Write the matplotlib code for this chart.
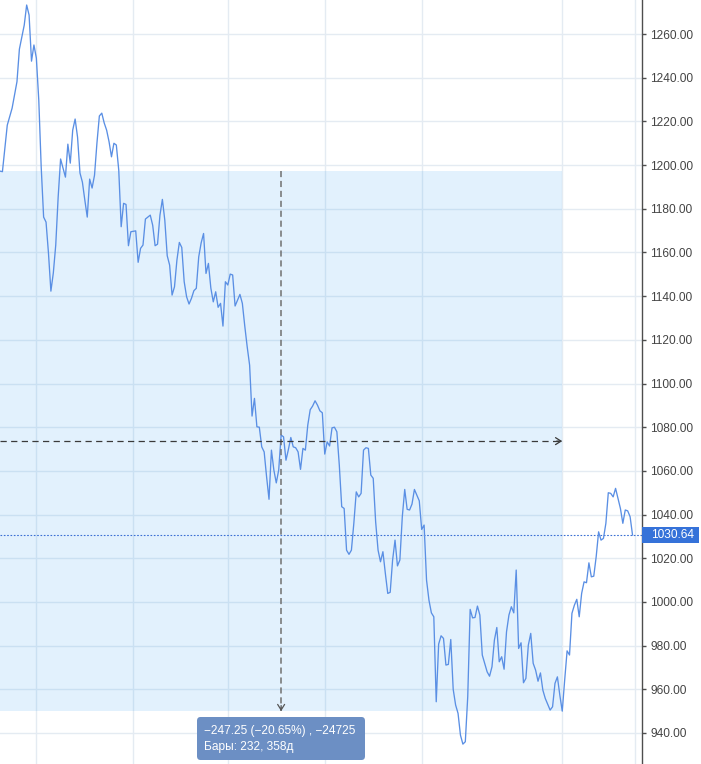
import matplotlib
matplotlib.use("Agg")
import matplotlib.pyplot as plt
from matplotlib.patches import Rectangle, FancyBboxPatch
from matplotlib.ticker import FuncFormatter

plt.rcParams["font.family"] = ["Liberation Sans", "DejaVu Sans"]

# bar index -> close price
bars = [0, 1, 3, 5, 7, 8, 10, 11, 12, 13, 14, 15, 16, 17, 18, 19, 20, 21, 22, 23,
        24, 25, 26, 27, 28, 29, 30, 31, 32, 33, 34, 35, 36, 37, 38, 39, 40, 41, 42, 43,
        44, 45, 46, 47, 48, 49, 50, 51, 52, 53, 54, 56, 57, 58, 59, 60, 62, 63, 64, 65,
        66, 67, 68, 69, 70, 71, 72, 73, 74, 75, 76, 77, 78, 79, 80, 81, 82, 83, 84, 85,
        86, 87, 88, 89, 90, 91, 92, 93, 94, 95, 96, 97, 98, 99, 100, 101, 102, 103, 104, 105,
        106, 107, 108, 109, 110, 111, 112, 113, 114, 115, 116, 117, 118, 119, 120, 121, 122, 123, 124, 125,
        126, 127, 128, 129, 130, 131, 132, 133, 134, 135, 136, 137, 138, 139, 140, 141, 142, 143, 144, 145,
        146, 147, 148, 149, 150, 151, 152, 153, 154, 155, 156, 157, 158, 159, 160, 161, 162, 163, 164, 165,
        166, 167, 168, 169, 170, 171, 172, 173, 174, 175, 176, 177, 178, 179, 180, 181, 182, 183, 184, 185,
        186, 187, 188, 189, 190, 191, 192, 193, 194, 195, 196, 197, 198, 199, 201, 202, 203, 204, 205, 206,
        207, 208, 209, 210, 211, 212, 213, 214, 215, 216, 217, 218, 219, 220, 221, 222, 223, 224, 225, 226,
        227, 228, 229, 230, 231, 232, 233, 234, 235, 236, 237, 238, 239, 240, 241, 242, 243, 244, 245, 246,
        247, 248, 249, 250, 251, 252, 253, 254, 255, 256, 257, 258, 259, 260, 261]

close = [1197.25, 1197.0, 1218.3, 1226.1, 1238.2, 1253.1, 1264.1, 1273.3, 1268.7, 1247.6,
         1255.0, 1249.0, 1229.8, 1199.1, 1176.2, 1173.9, 1159.7, 1142.3, 1150.6, 1163.4,
         1185.4, 1202.8, 1198.6, 1194.5, 1209.6, 1200.9, 1216.0, 1221.1, 1212.8, 1196.4,
         1192.2, 1184.0, 1176.2, 1193.6, 1189.5, 1195.4, 1210.1, 1222.5, 1223.8, 1219.3,
         1216.0, 1210.7, 1203.8, 1210.0, 1209.2, 1197.7, 1171.8, 1182.5, 1182.0, 1163.1,
         1169.5, 1169.9, 1155.5, 1161.9, 1163.4, 1175.3, 1177.1, 1172.5, 1163.1, 1163.8,
         1177.1, 1184.3, 1174.8, 1158.5, 1154.2, 1140.5, 1144.3, 1156.5, 1164.6, 1162.3,
         1146.6, 1139.7, 1136.4, 1139.0, 1142.5, 1143.6, 1158.0, 1164.4, 1168.7, 1150.4,
         1155.0, 1143.7, 1137.4, 1142.0, 1134.9, 1136.7, 1126.3, 1146.6, 1145.1, 1150.1,
         1149.7, 1135.5, 1138.2, 1140.8, 1136.7, 1126.3, 1116.8, 1108.4, 1085.1, 1093.2,
         1080.2, 1080.0, 1071.0, 1068.7, 1057.3, 1047.0, 1069.5, 1060.4, 1054.5, 1060.4,
         1076.4, 1075.6, 1064.9, 1069.8, 1075.3, 1071.0, 1070.6, 1068.7, 1060.7, 1070.3,
         1069.5, 1081.0, 1088.0, 1089.7, 1092.1, 1090.1, 1087.5, 1086.6, 1067.7, 1073.3,
         1071.4, 1079.7, 1080.0, 1077.9, 1062.7, 1043.6, 1042.8, 1023.7, 1021.8, 1023.7,
         1036.0, 1050.4, 1048.1, 1049.7, 1069.5, 1070.6, 1070.3, 1058.1, 1056.6, 1036.7,
         1023.7, 1018.4, 1023.0, 1013.1, 1003.9, 1004.4, 1019.2, 1028.3, 1016.5, 1019.2,
         1039.0, 1051.5, 1042.4, 1042.1, 1044.8, 1051.5, 1048.9, 1046.3, 1033.2, 1035.2,
         1010.0, 1000.8, 995.0, 993.2, 954.3, 980.7, 984.5, 983.3, 971.1, 971.4,
         982.8, 960.0, 952.8, 949.0, 939.0, 934.9, 936.0, 956.6, 996.6, 992.7,
         992.9, 998.1, 994.0, 975.7, 968.0, 966.0, 970.3, 982.5, 988.3, 972.6,
         974.9, 969.2, 986.3, 994.0, 997.8, 995.0, 1014.6, 978.7, 981.3, 963.0,
         965.0, 980.2, 985.6, 971.9, 968.8, 963.7, 967.5, 959.6, 955.8, 953.2,
         950.5, 952.0, 962.7, 965.7, 957.3, 950.0, 964.2, 977.6, 975.7, 994.8,
         998.5, 1001.2, 993.2, 1003.9, 1009.2, 1008.8, 1017.9, 1011.5, 1011.8, 1020.7,
         1032.1, 1028.3, 1029.1, 1036.0, 1050.0, 1049.7, 1048.1, 1052.0, 1047.4, 1042.8,
         1036.0, 1042.1, 1041.7, 1039.0, 1030.64]

price_ticks = list(range(940, 1261, 20))
time_grid = [15, 55, 94, 134, 174, 232, 262]
start_bar, end_bar = 0, 232
span_days = 358
last_price = close[-1]

fig = plt.figure(figsize=(7.01, 7.64), dpi=100)
ax = fig.add_axes([0, 0, 641.5 / 701, 1])
ax.set_xlim(0, 264.7)
ax.set_ylim(925.8, 1275.6)

ax.set_yticks(price_ticks)
ax.set_xticks(time_grid)
ax.yaxis.set_major_formatter(FuncFormatter(lambda v, p: f"{v:.2f}"))
ax.yaxis.tick_right()
ax.tick_params(axis='y', right=True, left=False, labelright=True, labelleft=False,
               length=3, width=1, color='#4d4d4d', pad=3.5, labelsize=8.6, labelcolor='#444444')
ax.tick_params(axis='x', length=0, labelbottom=False)
ax.grid(True, color='#e4ebf2', lw=1)
ax.set_axisbelow(True)
for side in ['top', 'left', 'bottom']:
    ax.spines[side].set_visible(False)
ax.spines['right'].set_color('#4d4d4d')
ax.spines['right'].set_linewidth(1)

# measurement box
p_start = close[bars.index(start_bar)]
p_end = close[bars.index(end_bar)]
change = p_end - p_start
pct = change / p_start * 100
mid_bar = (start_bar + end_bar) / 2
mid_price = (p_start + p_end) / 2

ax.add_patch(Rectangle((start_bar, p_end), end_bar - start_bar, p_start - p_end,
                       fc='#2196f3', alpha=0.13, ec='none', zorder=1.5))

ax.plot(bars, close, color='#5a8fe4', lw=0.95, zorder=3)

ax.axhline(last_price, color='#3a6fd4', lw=0.8, ls=(0, (1.5, 1.5)), zorder=2.5)

ax.plot([mid_bar, mid_bar], [p_start, p_end], color='#707070', lw=1.1, ls=(0, (4, 2.5)), zorder=4)
ax.plot([start_bar, end_bar], [mid_price, mid_price], color='#3a3a3a', lw=0.9, ls=(0, (5, 3.5)), zorder=4)
ax.annotate('', xy=(mid_bar, p_end), xytext=(0, 4), textcoords='offset points',
            arrowprops=dict(arrowstyle='->,head_length=0.4,head_width=0.25', color='#555555',
                            lw=0.9, shrinkA=0, shrinkB=0), zorder=4)
ax.annotate('', xy=(end_bar, mid_price), xytext=(-4, 0), textcoords='offset points',
            arrowprops=dict(arrowstyle='->,head_length=0.4,head_width=0.25', color='#3a3a3a',
                            lw=0.9, shrinkA=0, shrinkB=0), zorder=4)

# last price label
ax.add_patch(Rectangle((1.0, last_price - 3.5), 57 / 641.5, 7.0, transform=ax.get_yaxis_transform(),
                       fc='#3572d9', ec='none', clip_on=False, zorder=5))
ax.text(1.0 + 9.5 / 641.5, last_price, f"{last_price:.2f}", transform=ax.get_yaxis_transform(),
        color='white', fontsize=8.6, va='center', ha='left', clip_on=False, zorder=6)

# tooltip
box = FancyBboxPatch((197 / 701, 1 - 760 / 764), 168 / 701, 43 / 764,
                     boxstyle='round,pad=0,rounding_size=0.005', transform=fig.transFigure,
                     fc='#6c8fc4', ec='none', zorder=10)
fig.patches.append(box)
line1 = f"{change:.2f} ({pct:.2f}%) , {change * 100:.0f}".replace('-', '\u2212')
line2 = f"Бары: {end_bar - start_bar}, {span_days}д"
fig.text(204 / 701, 1 - 731 / 764, line1, color='white', fontsize=8.6, va='center', ha='left', zorder=11)
fig.text(204 / 701, 1 - 747 / 764, line2, color='white', fontsize=8.6, va='center', ha='left', zorder=11)

fig.savefig("out.png", dpi=100)
